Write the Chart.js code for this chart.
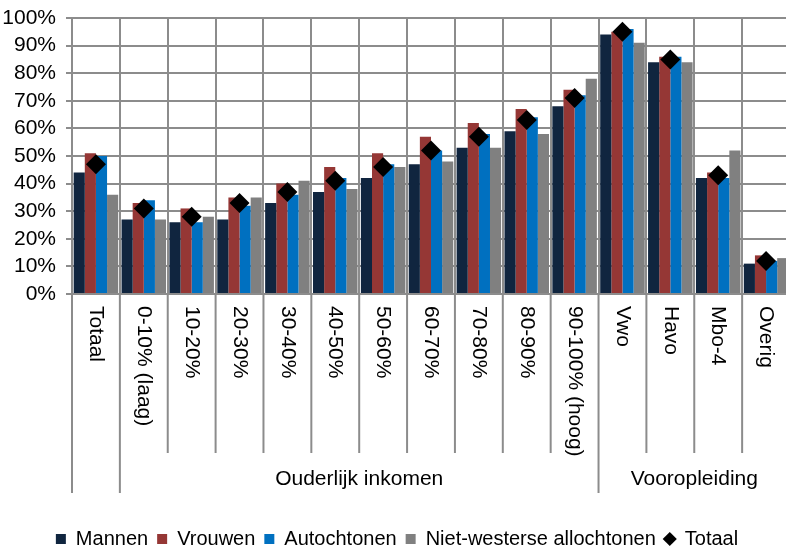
<!DOCTYPE html>
<html>
<head>
<meta charset="utf-8">
<script src="https://cdn.jsdelivr.net/npm/chart.js@4/dist/chart.umd.min.js"></script>
<style>
  html, body { margin: 0; padding: 0; background: #fff; overflow: hidden; }
  #wrap { width: 800px; height: 548px; }
</style>
</head>
<body>
<div id="wrap"><canvas id="chart" width="800" height="548"></canvas></div>
<script>
const categories = ['Totaal', '0-10% (laag)', '10-20%', '20-30%', '30-40%', '40-50%', '50-60%',
  '60-70%', '70-80%', '80-90%', '90-100% (hoog)', 'Vwo', 'Havo', 'Mbo-4', 'Overig'];
const mannen      = [44, 27, 26, 27, 33, 37, 42, 47, 53, 59, 68, 94, 84, 42, 11];
const vrouwen     = [51, 33, 31, 35, 40, 46, 51, 57, 62, 67, 74, 95, 86, 44, 14];
const autochtonen = [50, 34, 26, 32, 36, 42, 47, 52, 58, 64, 72, 96, 86, 42, 12];
const nietWesters = [36, 27, 28, 35, 41, 38, 46, 48, 53, 58, 78, 91, 84, 52, 13];
const totaal      = [47, 31, 28, 33, 37, 41, 46, 52, 57, 63, 71, 95, 85, 43, 12];

// groups under the category labels (first / last category index)
const groupLabels = ['', 'Ouderlijk inkomen', 'Vooropleiding'];
const groupStart  = [0, 1, 11];
const groupEnd    = [0, 10, 14];

const FONT = 'Liberation Sans';
const GRID = '#8c8c8c';

// draws the rotated category labels, the separators and the group labels
const categoryAxis = {
  id: 'categoryAxis',
  afterDraw(chart) {
    const ctx = chart.ctx;
    const x = chart.scales.x;
    const bottom = chart.chartArea.bottom;
    const half = (x.getPixelForValue(1) - x.getPixelForValue(0)) / 2;
    ctx.save();
    ctx.strokeStyle = GRID;
    ctx.lineWidth = 2;
    // separators: long ones at group edges
    categories.forEach((c, i) => {
      const px = x.getPixelForValue(i) - half;
      const isGroupEdge = groupStart.includes(i);
      ctx.beginPath();
      ctx.moveTo(px, bottom);
      ctx.lineTo(px, bottom + (isGroupEdge ? 199 : 159));
      ctx.stroke();
    });
    const lastPx = x.getPixelForValue(categories.length - 1) + half;
    ctx.beginPath();
    ctx.moveTo(lastPx, bottom);
    ctx.lineTo(lastPx, bottom + 199);
    ctx.stroke();

    ctx.fillStyle = '#000';
    ctx.font = '21px "' + FONT + '"';
    ctx.textAlign = 'left';
    ctx.textBaseline = 'middle';
    categories.forEach((c, i) => {
      ctx.save();
      ctx.translate(x.getPixelForValue(i), bottom + 12);
      ctx.rotate(Math.PI / 2);
      ctx.fillText(c, 0, 0);
      ctx.restore();
    });

    ctx.textAlign = 'center';
    groupLabels.forEach((g, k) => {
      if (!g) return;
      const mid = (x.getPixelForValue(groupStart[k]) + x.getPixelForValue(groupEnd[k])) / 2;
      ctx.fillText(g, mid, bottom + 185);
    });
    ctx.restore();
  }
};

const barDefaults = { categoryPercentage: 0.93, barPercentage: 1, borderWidth: 0, order: 1 };

new Chart(document.getElementById('chart'), {
  type: 'bar',
  data: {
    labels: categories,
    datasets: [
      { label: 'Mannen', data: mannen, backgroundColor: '#10253f', ...barDefaults },
      { label: 'Vrouwen', data: vrouwen, backgroundColor: '#953735', ...barDefaults },
      { label: 'Autochtonen', data: autochtonen, backgroundColor: '#0070c0', ...barDefaults },
      { label: 'Niet-westerse allochtonen', data: nietWesters, backgroundColor: '#808080', ...barDefaults },
      {
        type: 'line', label: 'Totaal', data: totaal, showLine: false, order: 0,
        pointStyle: 'rectRot', pointRadius: 10, pointHoverRadius: 10,
        pointBackgroundColor: '#000', pointBorderWidth: 0, backgroundColor: '#000', borderColor: '#000'
      }
    ]
  },
  options: {
    responsive: false,
    animation: false,
    devicePixelRatio: 1,
    layout: { padding: { top: 18, right: 6, left: 0, bottom: -11 } },
    plugins: {
      tooltip: { enabled: false },
      legend: {
        position: 'bottom',
        labels: {
          font: { family: FONT, size: 20 },
          color: '#000',
          usePointStyle: true,
          boxHeight: 10,
          boxWidth: 10,
          padding: 9,
          sort: (a, b) => a.datasetIndex - b.datasetIndex,
          generateLabels(chart) {
            const items = Chart.defaults.plugins.legend.labels.generateLabels(chart);
            items.forEach(it => { it.pointStyle = it.datasetIndex === 4 ? 'rectRot' : 'rect'; it.lineWidth = 0; });
            return items;
          }
        }
      }
    },
    scales: {
      x: {
        ticks: { display: false },
        grid: { color: GRID, lineWidth: 2, drawTicks: false, offset: true },
        border: { color: GRID, width: 2 },
        afterFit(scale) { scale.height = 226; }
      },
      y: {
        min: 0, max: 100,
        ticks: {
          stepSize: 10,
          autoSkip: false,
          padding: 10,
          color: '#000',
          font: { family: FONT, size: 21, lineHeight: 0.7 },
          callback: v => v + '%'
        },
        grid: { color: GRID, lineWidth: 2, tickLength: 6 },
        border: { color: GRID, width: 2 },
        afterFit(scale) { scale.width = 72; }
      }
    }
  },
  plugins: [categoryAxis]
});
</script>
</body>
</html>
